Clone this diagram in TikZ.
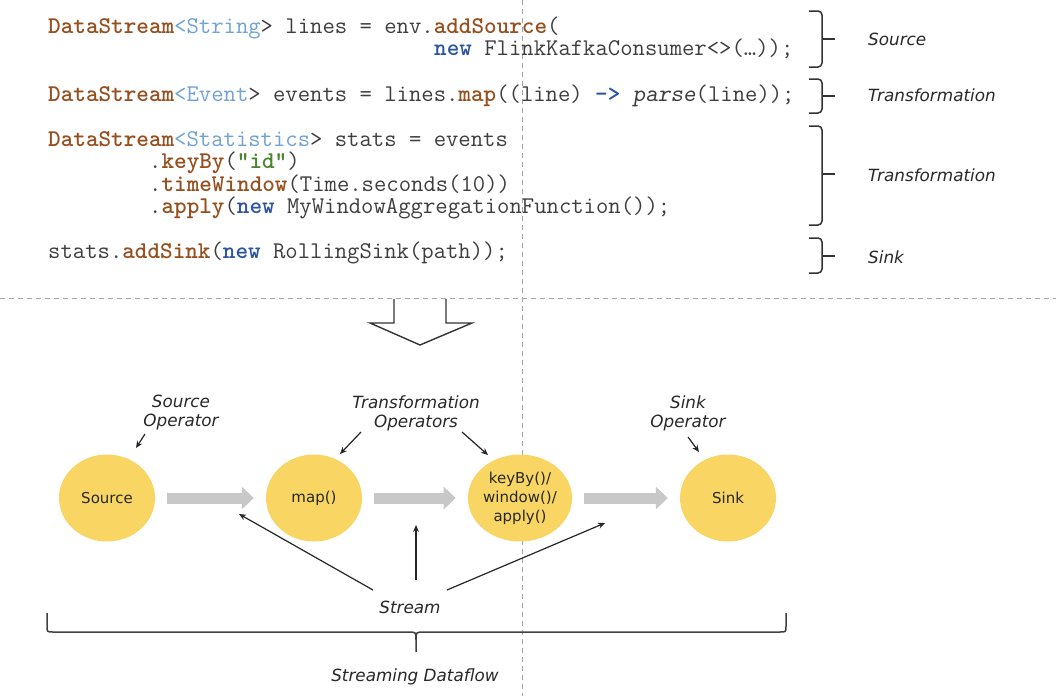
\documentclass[tikz,border=0pt]{standalone}
\usepackage{fontspec}
\newfontfamily\labfont{DejaVu Sans}
\usetikzlibrary{shapes.geometric,arrows.meta}
\definecolor{kwbrown}{RGB}{150,80,32}
\definecolor{typeblue}{RGB}{112,162,212}
\definecolor{newblue}{RGB}{44,84,160}
\definecolor{strgreen}{RGB}{72,132,44}
\definecolor{codegray}{RGB}{62,62,62}
\definecolor{textdark}{RGB}{40,40,40}
\definecolor{opyellow}{RGB}{249,213,99}
\definecolor{flowgray}{RGB}{200,200,200}
\definecolor{dashgray}{RGB}{165,165,165}
\newcommand{\K}[1]{\textcolor{kwbrown}{\bfseries #1}}
\newcommand{\T}[1]{\textcolor{typeblue}{#1}}
\newcommand{\N}[1]{\textcolor{newblue}{\bfseries #1}}
\newcommand{\G}[1]{\textcolor{strgreen}{\bfseries #1}}
\begin{document}
\begin{tikzpicture}[x=1pt,y=-1pt,
  code/.style={anchor=base west, inner sep=0pt, font=\ttfamily\frenchspacing\fontsize{24}{24}\selectfont, text=codegray},
  lab/.style={inner sep=0pt, font=\labfont\itshape\fontsize{16.8}{19}\selectfont, text=textdark, align=center},
  op/.style={ellipse, fill=opyellow, minimum width=96pt, minimum height=87pt, inner sep=0pt,
    font=\labfont\fontsize{15}{19}\selectfont, text=textdark, align=center},
  flow/.style={line width=11pt, draw=flowgray, -{Triangle[length=12pt,width=22pt]}, shorten <=12pt, shorten >=12pt},
  ptr/.style={-{Stealth[length=7pt,width=6pt]}, line width=1.2pt, draw=black!85},
  codebrace/.style={line width=1.5pt, draw=black!80, rounded corners=4pt},
  sep/.style={dashed, dash pattern=on 5pt off 4pt, line width=1pt, draw=dashgray}]
\useasboundingbox (0,0) rectangle (1056,696);
\fill[white] (0,0) rectangle (1056,696);

% separators
\coordinate (hl) at (0,298); \coordinate (hr) at (1056,298);
\coordinate (vt) at (522,0); \coordinate (vb) at (522,696);
\draw[sep] (hl) -- (hr);
\draw[sep] (vt) -- (vb);

% code
\node[code] (c1) at (48,33) {\K{DataStream}\T{<String}> lines = env.\K{addSource}(};
\node[code] (c2) at (434,55.5) {\N{new} FlinkKafkaConsumer<>(…));};
\node[code] (c3) at (48,101.5) {\K{DataStream}\T{<Event}> events = lines.\K{map}((line) \N{->} {\slshape parse}(line));};
\node[code] (c4) at (48,146) {\K{DataStream}\T{<Statistics}> stats = events};
\node[code] (c5) at (149,168.5) {.\K{keyBy}(\G{"id"})};
\node[code] (c6) at (149,191) {.\K{timeWindow}(Time.seconds(10))};
\node[code] (c7) at (149,213.5) {.\K{apply}(\N{new} MyWindowAggregationFunction());};
\node[code] (c8) at (48,258.5) {stats.\K{addSink}(\N{new} RollingSink(path));};

% code braces
\draw[codebrace] (809,11) -- (822,11) -- (822,67) -- (809,67);
\draw[codebrace] (822,39) -- (835,39);
\draw[codebrace] (809,79) -- (822,79) -- (822,113) -- (809,113);
\draw[codebrace] (822,96) -- (835,96);
\draw[codebrace] (809,126) -- (822,126) -- (822,225) -- (809,225);
\draw[codebrace] (822,174) -- (835,174);
\draw[codebrace] (809,238) -- (822,238) -- (822,273) -- (809,273);
\draw[codebrace] (822,256) -- (835,256);

\node[lab, anchor=base west] (l1) at (868,45) {Source};
\node[lab, anchor=base west] (l2) at (868,101) {Transformation};
\node[lab, anchor=base west] (l3) at (868,181) {Transformation};
\node[lab, anchor=base west] (l4) at (868,263) {Sink};

% hollow arrow
\draw[line width=1.4pt, draw=black!80, line join=miter] (394,299) -- (394,323) -- (370,323) -- (420,345) -- (472,323) -- (446,323) -- (446,299);

% operators
\node[op] (src) at (107,498) {Source};
\node[op] (map) at (314,498) {map()};
\node[op] (key) at (520,498) {keyBy()/\\window()/\\apply()};
\node[op] (snk) at (728,498) {Sink};

\draw[flow] (src) -- (map);
\draw[flow] (map) -- (key);
\draw[flow] (key) -- (snk);

% operator labels
\node[lab] (srcop) at (181,413) {Source\\Operator};
\node[lab] (trop) at (416,413) {Transformation\\Operators};
\node[lab] (snkop) at (688,413) {Sink\\Operator};

\coordinate (a1s) at (145,434); \coordinate (a1e) at (136,448);
\coordinate (a2s) at (361,432); \coordinate (a2e) at (340,454);
\coordinate (a3s) at (462,432); \coordinate (a3e) at (488,455);
\coordinate (a4s) at (688,437); \coordinate (a4e) at (699,452);
\draw[ptr] (a1s) -- (a1e);
\draw[ptr] (a2s) -- (a2e);
\draw[ptr] (a3s) -- (a3e);
\draw[ptr] (a4s) -- (a4e);

% stream
\node[lab] (stream) at (410,607) {Stream};
\coordinate (s1s) at (373,590); \coordinate (s1e) at (239,514);
\coordinate (s2s) at (416,580); \coordinate (s2e) at (416,525);
\coordinate (s3s) at (447,590); \coordinate (s3e) at (605,523);
\draw[ptr] (s1s) -- (s1e);
\draw[ptr] (s2s) -- (s2e);
\draw[ptr] (s3s) -- (s3e);

% bottom brace
\coordinate (bl) at (47,613); \coordinate (br) at (786,613); \coordinate (bt) at (416,652);
\draw[line width=1.5pt, draw=black!75]
  (bl) -- (47,626) .. controls (47,632) .. (53,632) -- (408,632) .. controls (416,632) .. (416,640) -- (bt);
\draw[line width=1.5pt, draw=black!75]
  (br) -- (786,626) .. controls (786,632) .. (780,632) -- (424,632) .. controls (416,632) .. (416,640);
\node[lab] (sdf) at (415,677) {Streaming Dataflow};
\end{tikzpicture}
\end{document}
